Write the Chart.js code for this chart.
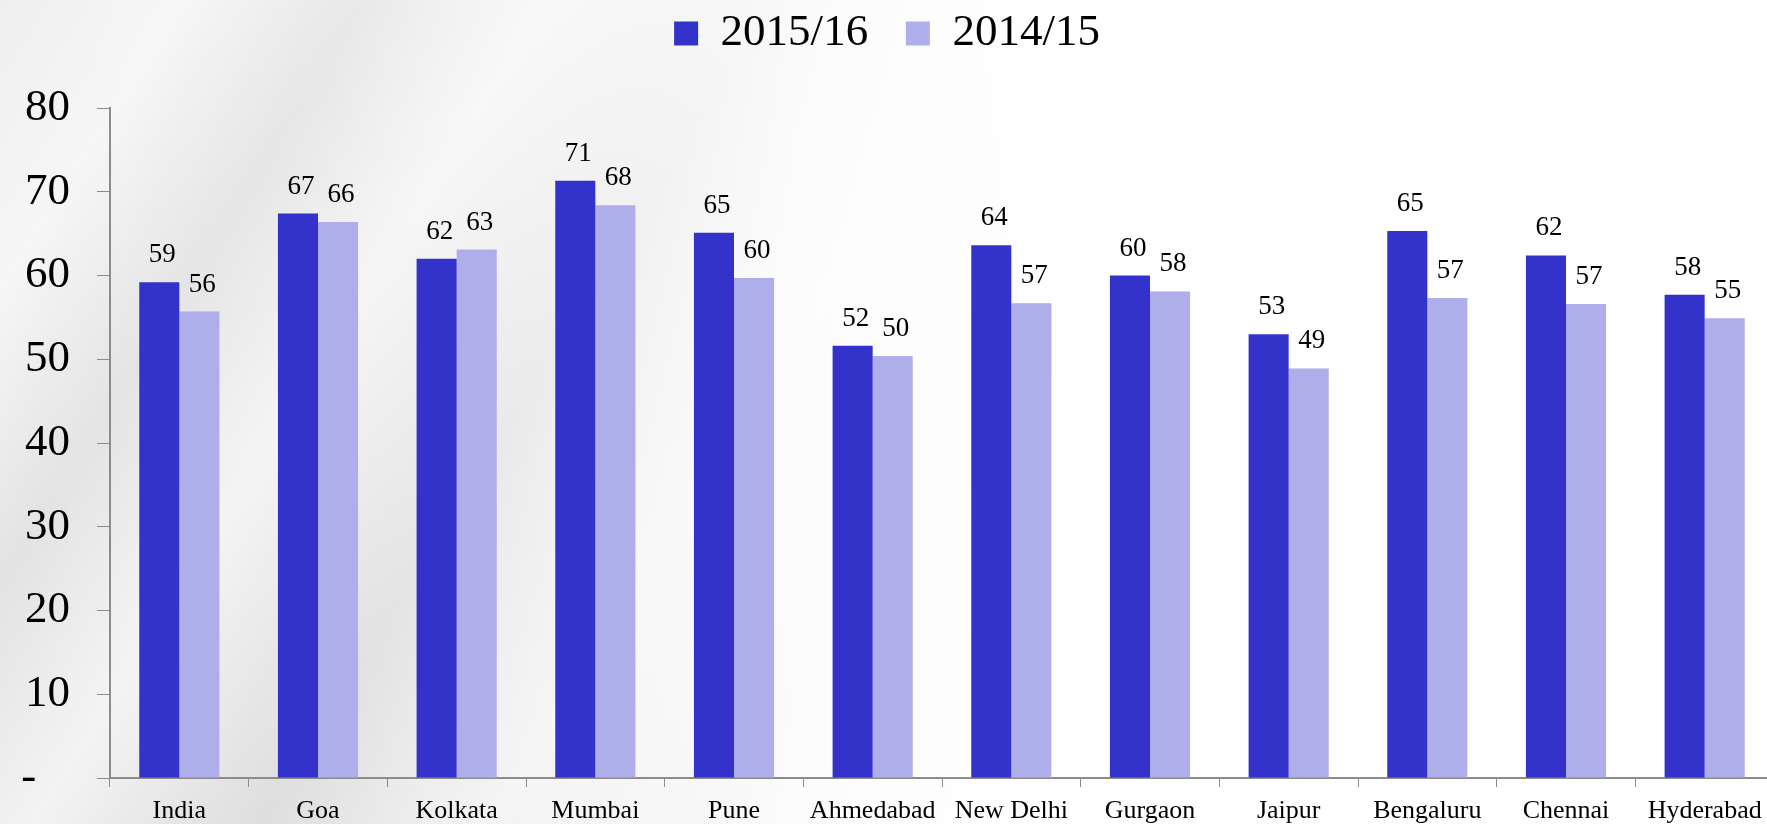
<!DOCTYPE html>
<html>
<head>
<meta charset="utf-8">
<script src="https://cdn.jsdelivr.net/npm/chart.js@4.4.0/dist/chart.umd.min.js"></script>
<style>
  html, body { margin: 0; padding: 0; overflow: hidden; }
  body {
    width: 1767px; height: 824px;
    background:
      linear-gradient(90deg, rgba(255,255,255,0) 0%, rgba(255,255,255,0.15) 18%, rgba(255,255,255,0.85) 45%, #ffffff 62%),
      linear-gradient(122deg, #efefef 0%, #f6f6f6 8%, #e3e3e3 16%, #f3f3f3 24%, #dadada 34%, #ededed 44%, #e4e4e4 54%, #f4f4f4 66%, #f8f8f8 100%);
  }
  #wrap { width: 1776px; height: 824px; position: relative; }
</style>
</head>
<body>
<div id="wrap"><canvas id="barChart"></canvas></div>
<script>
// city occupancy, two years

const cities = ['India', 'Goa', 'Kolkata', 'Mumbai', 'Pune', 'Ahmedabad', 'New Delhi',
  'Gurgaon', 'Jaipur', 'Bengaluru', 'Chennai', 'Hyderabad'];

const fy1516 = [59.2, 67.4, 62.0, 71.3, 65.1, 51.6, 63.6, 60.0, 53.0, 65.3, 62.4, 57.7];
const fy1415 = [55.7, 66.4, 63.1, 68.4, 59.7, 50.4, 56.7, 58.1, 48.9, 57.3, 56.6, 54.9];

const yTicks = [0, 10, 20, 30, 40, 50, 60, 70, 80];

const serif = '"Liberation Serif", "Times New Roman", serif';

// value labels over each bar
const barLabels = {
  id: 'barLabels',
  afterDatasetsDraw(chart) {
    const ctx = chart.ctx;
    ctx.save();
    ctx.font = '27px ' + serif;
    ctx.fillStyle = '#000';
    ctx.textAlign = 'center';
    ctx.textBaseline = 'alphabetic';
    chart.data.datasets.forEach((ds, i) => {
      chart.getDatasetMeta(i).data.forEach((bar, j) => {
        ctx.fillText(Math.round(ds.data[j]), bar.x + 3, bar.y - 20);
      });
    });
    ctx.restore();
  }
};

const data = {
  labels: cities,
  datasets: [{
    label: '2015/16',
    data: fy1516,
    backgroundColor: '#3333cc',
    borderWidth: 0
  }, {
    label: '2014/15',
    data: fy1415,
    backgroundColor: '#aeaeea',
    borderWidth: 0
  }]
};

const config = {
  type: 'bar',
  data: data,
  plugins: [barLabels],
  options: {
    responsive: true,
    maintainAspectRatio: false,
    animation: false,
    barPercentage: 1,
    categoryPercentage: 0.578,
    layout: { padding: { top: 7, right: 2, left: 0, bottom: 0 } },
    plugins: {
      tooltip: { enabled: false },
      legend: {
        position: 'top',
        labels: {
          color: '#000',
          font: { family: serif, size: 45 },
          boxWidth: 24,
          boxHeight: 24,
          padding: 4,
          // extra room after the first item
          generateLabels(chart) {
            const items = Chart.defaults.plugins.legend.labels.generateLabels(chart);
            items[0].text += '   ';
            return items;
          }
        }
      },
      // empty title used as a gap between legend and plot
      title: {
        display: true,
        text: ' ',
        weight: 500,
        font: { size: 1, lineHeight: 1 },
        padding: { top: 41, bottom: 0 }
      }
    },
    scales: {
      x: {
        grid: {
          offset: true,
          drawOnChartArea: false,
          drawTicks: true,
          tickLength: 9,
          color: '#8c8c8c'
        },
        border: { color: '#8c8c8c', width: 2 },
        ticks: {
          color: '#000',
          font: { family: serif, size: 26 },
          padding: 9,
          maxRotation: 0,
          autoSkip: false
        },
        afterFit(s) { s.height = 46; }
      },
      y: {
        min: 0,
        max: 80,
        afterBuildTicks(s) { s.ticks = yTicks.map(v => ({ value: v })); },
        grid: {
          drawOnChartArea: false,
          drawTicks: true,
          tickLength: 13,
          color: '#8c8c8c'
        },
        border: { color: '#8c8c8c', width: 2 },
        ticks: {
          color: '#000',
          font: { family: serif, size: 45 },
          padding: 27,
          callback: v => (v === 0 ? '-   ' : v)
        },
        afterFit(s) {
          s.width = 110;
          s.paddingTop = 0;
          s.paddingBottom = 0;
        }
      }
    }
  }
};

const barChart = new Chart(document.getElementById('barChart'), config);
</script>
</body>
</html>
